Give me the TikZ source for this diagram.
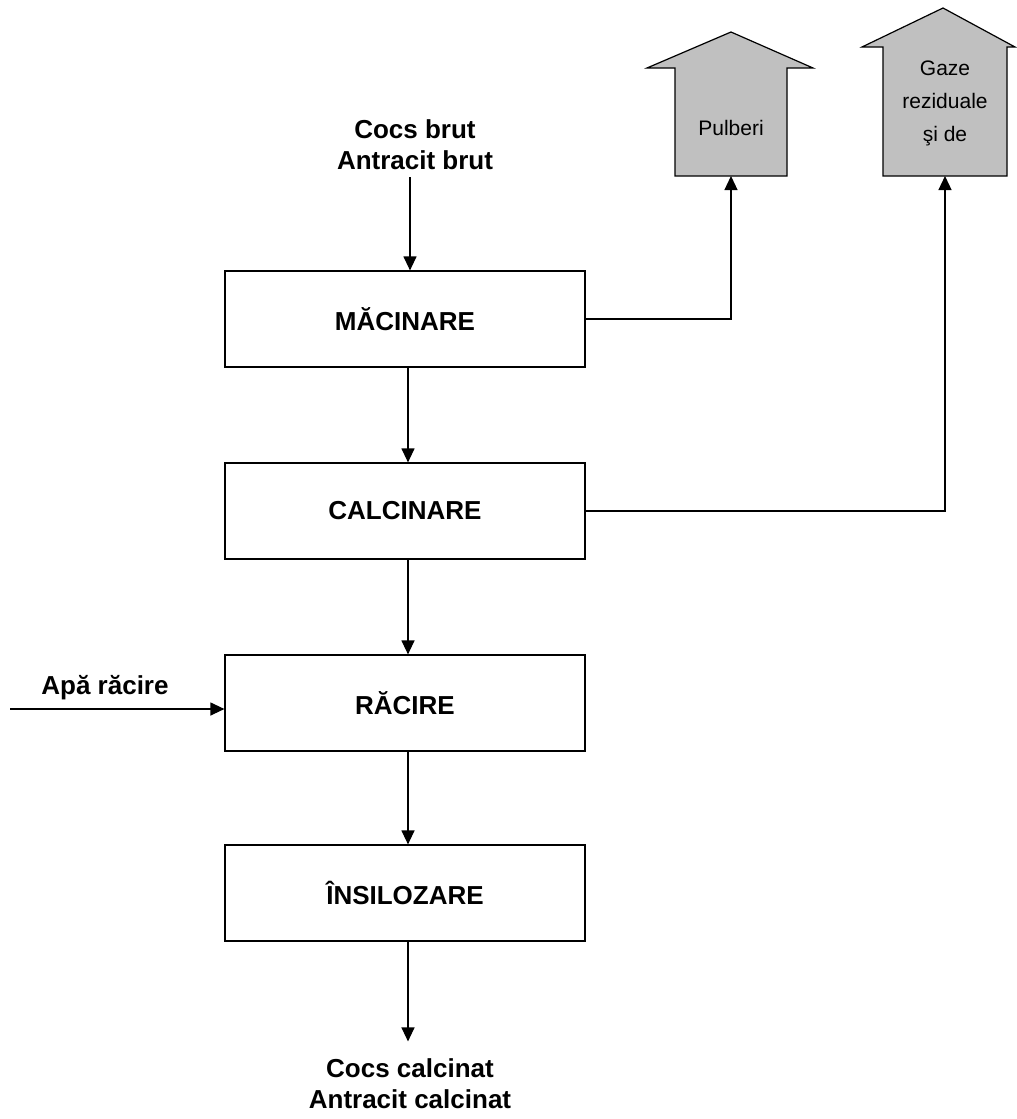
\documentclass[tikz,border=0pt]{standalone}
\usepackage{fontspec}
\setmainfont{Liberation Sans}
\usepackage{xcolor}
\usepackage{tikz}
\usetikzlibrary{arrows.meta,positioning}
\definecolor{ventgray}{RGB}{192,192,192}

\begin{document}
\begin{tikzpicture}[
    x=1pt, y=-1pt,
    box/.style={rectangle, draw, line width=1.2pt, minimum width=360pt, minimum height=96pt, font=\fontsize{26}{30}\selectfont\bfseries},
    lbl/.style={align=center, font=\fontsize{26}{31}\selectfont\bfseries},
    outlbl/.style={align=center, font=\fontsize{21}{33}\selectfont},
    vent/.style={draw, line width=1.2pt, fill=ventgray},
    arrow/.style={-{Triangle[length=14pt,width=13pt]}, line width=1.2pt}
]
\useasboundingbox (0,0) rectangle (1017,1119);
% process steps
\node[lbl] (inp) at (415,145) {Cocs brut\\Antracit brut};
\node[box] (mac) at (405,319) {MĂCINARE};
\node[box] (calc) at (405,511) {CALCINARE};
\node[box] (rac) at (405,703) {RĂCIRE};
\node[box] (ins) at (405,893) {ÎNSILOZARE};
\node[lbl] (out) at (410,1084) {Cocs calcinat\\Antracit calcinat};
\node[lbl] (apa) at (105,688) {Apă răcire};
\coordinate (inpend) at (410,177);
\coordinate (apastart) at (10,709);
% emissions
\draw[vent] (675,176) -- (675,68) -- (647,68) -- (731,32) -- (813,68) -- (787,68) -- (787,176) -- cycle;
\node[outlbl] (pulb) at (731,128) {Pulberi};
\coordinate (pulbin) at (731,176);
\draw[vent] (883,176) -- (883,47) -- (862,47) -- (943,8) -- (1015,47) -- (1007,47) -- (1007,176) -- cycle;
\node[outlbl] (gaze) at (945,103) {Gaze\\reziduale\\şi de};
\coordinate (gazein) at (945,176);
% flows
\draw[arrow] (inpend) -- (inpend |- mac.north);
\draw[arrow] ([xshift=3pt]mac.south) -- ([xshift=3pt]calc.north);
\draw[arrow] ([xshift=3pt]calc.south) -- ([xshift=3pt]rac.north);
\draw[arrow] ([xshift=3pt]rac.south) -- ([xshift=3pt]ins.north);
\draw[arrow] ([xshift=3pt]ins.south) -- ([xshift=-2pt,yshift=14pt]out.north);
\draw[arrow] (apastart) -- (apastart -| rac.west);
\draw[arrow] (mac.east) -| (pulbin);
\draw[arrow] (calc.east) -| (gazein);
\end{tikzpicture}
\end{document}
